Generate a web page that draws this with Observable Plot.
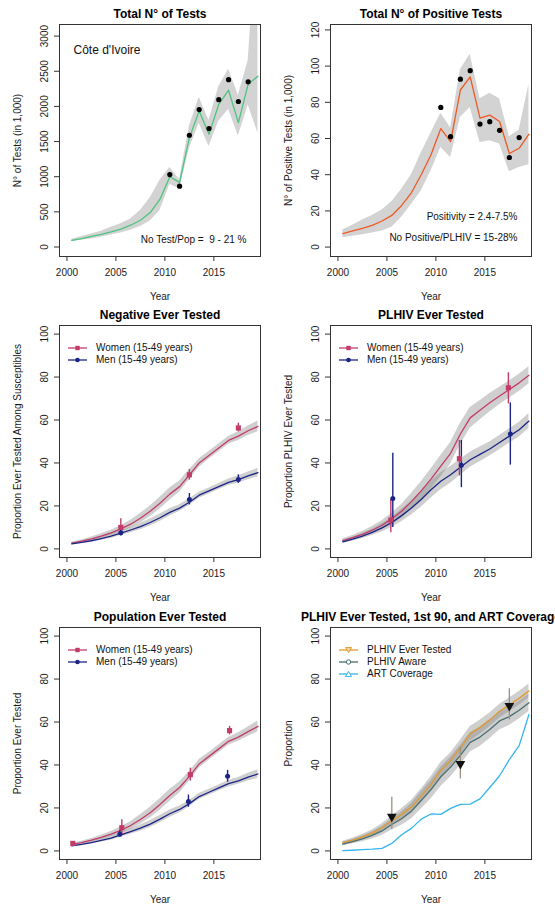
<!DOCTYPE html>
<html>
<head>
<meta charset="utf-8">
<script src="https://cdn.jsdelivr.net/npm/d3@7"></script>
<script src="https://cdn.jsdelivr.net/npm/@observablehq/plot@0.6"></script>
<style>
html, body { margin: 0; padding: 0; background: #fff; overflow: hidden; width: 555px; height: 909px; }
#wrap { position: relative; width: 555px; height: 909px; font-family: "Liberation Sans", Arial, Helvetica, sans-serif; }
.panel { position: absolute; width: 280px; height: 301px; overflow: visible; }
.panel svg { overflow: visible; max-width: none; }
.leg { position: absolute; font-size: 10px; color: #111; white-space: nowrap; line-height: 12px; }
.leg .row { position: relative; height: 12px; }
.leg svg { position: absolute; left: 0; top: 0; }
.leg span { position: absolute; left: 28px; top: 0; }
</style>
</head>
<body>
<div id="wrap"></div>
<script>
// ---------- data ----------
const years = [2000.5, 2001.5, 2002.5, 2003.5, 2004.5, 2005.5, 2006.5, 2007.5, 2008.5, 2009.5,
               2010.5, 2011.5, 2012.5, 2013.5, 2014.5, 2015.5, 2016.5, 2017.5, 2018.5, 2019.5];
const xTicks = [2000, 2005, 2010, 2015];
const testsTicks = [0, 500, 1000, 1500, 2000, 2500, 3000];
const posTicks = [0, 20, 40, 60, 80, 100, 120];
const pctTicks = [0, 20, 40, 60, 80, 100];

// Panel 1: total number of tests (in 1,000)
const testsMid = [95, 120, 150, 180, 215, 255, 310, 380, 490, 680, 1000, 920, 1556, 1936, 1604, 2030, 2230, 1770, 2316, 2430];
const testsLo  = [80, 95, 115, 140, 170, 200, 240, 290, 370, 520, 890, 830, 1400, 1760, 1430, 1790, 1960, 1580, 2020, 1620];
const testsHi  = [110, 150, 185, 225, 280, 330, 400, 520, 700, 950, 1130, 960, 1720, 2130, 1800, 2280, 2530, 2160, 2650, 4700];
const testsObsYear = [2010.5, 2011.5, 2012.5, 2013.5, 2014.5, 2015.5, 2016.5, 2017.5, 2018.5];
const testsObs     = [1030, 865, 1590, 1955, 1685, 2095, 2380, 2070, 2350];

// Panel 2: total number of positive tests (in 1,000)
const posMid = [7.4, 8.9, 10.4, 12.0, 14.4, 17.5, 23, 30, 40, 51, 65.5, 58.3, 86.8, 94.1, 71.3, 72.9, 69.4, 51.7, 54.6, 62.4];
const posLo  = [5.2, 6.0, 6.8, 7.8, 8.9, 11, 16.5, 23.6, 31, 42, 55, 49.5, 71.6, 77.2, 57.8, 58.7, 56.9, 41.7, 44, 45.5];
const posHi  = [9.5, 12, 15, 17.5, 20.5, 25, 32, 40, 52, 63, 74, 66, 98, 106.5, 82, 85, 82, 61, 64.6, 90];
const posObsYear = [2010.5, 2011.5, 2012.5, 2013.5, 2014.5, 2015.5, 2016.5, 2017.5, 2018.5];
const posObs     = [77.2, 61, 92.8, 97.5, 68, 69.3, 64.5, 49.5, 60.5];

// Panel 3: negative ever tested
const negW   = [2.7, 3.6, 4.7, 6.0, 7.5, 9.3, 11.5, 14.3, 17.5, 21.3, 25.5, 29.0, 34.5, 40.0, 43.5, 47.0, 50.5, 52.5, 55.0, 57.0];
const negWLo = [2.2, 3.0, 3.9, 5.0, 6.3, 7.8, 9.7, 12.1, 15.0, 18.6, 22.7, 26.4, 32.2, 38.0, 41.7, 45.2, 48.7, 50.5, 52.8, 54.5];
const negWHi = [3.2, 4.2, 5.5, 7.0, 8.7, 10.8, 13.3, 16.5, 20.0, 24.0, 28.3, 31.6, 36.8, 42.0, 45.3, 48.8, 52.3, 54.5, 57.2, 59.5];
const negM   = [2.3, 3.0, 3.8, 4.8, 5.9, 7.3, 8.8, 10.4, 12.3, 14.5, 17.0, 19.0, 21.7, 25.0, 27.0, 29.0, 31.0, 32.3, 34.0, 35.5];
const negMLo = [1.9, 2.5, 3.2, 4.0, 4.9, 6.2, 7.5, 8.9, 10.7, 12.8, 15.3, 17.4, 20.2, 23.6, 25.6, 27.6, 29.5, 30.7, 32.2, 33.5];
const negMHi = [2.7, 3.5, 4.4, 5.6, 6.9, 8.4, 10.1, 11.9, 13.9, 16.2, 18.7, 20.6, 23.2, 26.4, 28.4, 30.4, 32.5, 33.9, 35.8, 37.5];
const negObsWYear = [2005.5, 2012.5, 2017.5];
const negObsW     = [10, 34.5, 56.3];
const negObsWLo   = [7, 32, 54.5];
const negObsWHi   = [14, 37, 58.5];
const negObsMYear = [2005.5, 2012.5, 2017.5];
const negObsM     = [7.5, 23, 32.3];
const negObsMLo   = [6, 20.5, 30.5];
const negObsMHi   = [9, 25.8, 34.5];

// Panel 4: PLHIV ever tested
const plW   = [3.9, 5.2, 6.8, 8.7, 11.0, 14.0, 17.5, 22.0, 27.0, 32.5, 38.5, 44.5, 53.5, 61.0, 64.5, 68.0, 71.2, 74.2, 77.3, 80.8];
const plWLo = [3.1, 4.2, 5.5, 7.0, 8.9, 11.4, 14.3, 18.2, 22.7, 27.8, 33.5, 39.5, 48.5, 56.2, 60.0, 63.7, 67.1, 70.2, 73.3, 76.8];
const plWHi = [4.7, 6.2, 8.1, 10.4, 13.1, 16.6, 20.7, 25.8, 31.3, 37.2, 43.5, 49.5, 58.5, 65.8, 69.0, 72.3, 75.3, 78.2, 81.3, 84.8];
const plM   = [3.3, 4.5, 6.0, 7.7, 9.8, 12.3, 15.5, 19.0, 23.0, 27.5, 31.5, 34.5, 38.0, 41.5, 44.0, 46.5, 49.5, 52.5, 55.5, 59.5];
const plMLo = [2.6, 3.6, 4.8, 6.2, 7.9, 10.0, 12.7, 15.8, 19.4, 23.6, 27.5, 30.6, 34.3, 38.0, 40.6, 43.2, 46.2, 49.2, 52.1, 56.0];
const plMHi = [4.0, 5.4, 7.2, 9.2, 11.7, 14.6, 18.3, 22.2, 26.6, 31.4, 35.5, 38.4, 41.7, 45.0, 47.4, 49.8, 52.8, 55.8, 58.9, 63.0];
const plObsWYear = [2005.4, 2012.4, 2017.4];
const plObsW     = [13.5, 42, 75];
const plObsWLo   = [7.5, 34, 67.5];
const plObsWHi   = [23, 50.5, 82];
const plObsMYear = [2005.6, 2012.6, 2017.6];
const plObsM     = [23.5, 39, 53.5];
const plObsMLo   = [10, 28.5, 39];
const plObsMHi   = [44.5, 50.5, 68];

// Panel 5: population ever tested
const popW   = [3.0, 3.9, 5.0, 6.3, 7.8, 9.6, 11.8, 14.6, 17.8, 21.6, 25.8, 29.5, 34.7, 40.5, 44.0, 47.5, 51.0, 53.0, 55.5, 58.0];
const popWLo = [2.5, 3.3, 4.2, 5.3, 6.6, 8.1, 10.0, 12.4, 15.3, 18.9, 23.0, 26.9, 32.4, 38.5, 42.2, 45.7, 49.2, 51.0, 53.3, 55.5];
const popWHi = [3.5, 4.5, 5.8, 7.3, 9.0, 11.1, 13.6, 16.8, 20.3, 24.3, 28.6, 32.1, 37.0, 42.5, 45.8, 49.3, 52.8, 55.0, 57.7, 60.5];
const popM   = [2.3, 3.0, 3.9, 4.9, 6.0, 7.5, 9.0, 10.6, 12.5, 14.8, 17.3, 19.3, 22.0, 25.3, 27.3, 29.3, 31.3, 32.6, 34.3, 35.8];
const popMLo = [1.9, 2.5, 3.3, 4.1, 5.0, 6.4, 7.7, 9.1, 10.9, 13.1, 15.6, 17.7, 20.5, 23.9, 25.9, 27.9, 29.8, 31.0, 32.5, 33.8];
const popMHi = [2.7, 3.5, 4.5, 5.7, 7.0, 8.6, 10.3, 12.1, 14.1, 16.5, 19.0, 20.9, 23.5, 26.7, 28.7, 30.7, 32.8, 34.2, 36.1, 37.8];
const popObsWYear = [2000.6, 2005.6, 2012.6, 2016.6];
const popObsW     = [3.5, 10.8, 35.5, 56];
const popObsWLo   = [2.8, 7.5, 32.5, 54];
const popObsWHi   = [4.2, 14.5, 38.5, 58];
const popObsMYear = [2005.4, 2012.4, 2016.4];
const popObsM     = [7.8, 23, 34.7];
const popObsMLo   = [6.5, 20.3, 32];
const popObsMHi   = [9.5, 26, 37.5];

// Panel 6: PLHIV ever tested, aware (1st 90), ART coverage
const etVal = [3.8, 5.0, 6.5, 8.3, 10.8, 14.0, 17.0, 20.5, 25.5, 31.0, 37.5, 42.0, 48.0, 54.5, 57.5, 61.0, 65.0, 68.0, 71.0, 74.5];
const etLo  = [3.1, 4.1, 5.4, 6.9, 9.0, 11.8, 14.4, 17.5, 22.2, 27.5, 33.9, 38.4, 44.5, 51.1, 54.2, 57.8, 61.8, 64.8, 67.8, 71.3];
const etHi  = [4.5, 5.9, 7.6, 9.7, 12.6, 16.2, 19.6, 23.5, 28.8, 34.5, 41.1, 45.6, 51.5, 57.9, 60.8, 64.2, 68.2, 71.2, 74.2, 77.7];
const awVal = [3.2, 4.3, 5.6, 7.2, 9.3, 12.3, 15.0, 18.5, 23.5, 28.5, 34.5, 39.0, 44.5, 50.5, 53.0, 56.5, 60.5, 62.5, 65.5, 69.0];
const awLo  = [2.4, 3.3, 4.3, 5.5, 7.2, 9.7, 11.9, 14.9, 19.5, 24.2, 30.0, 34.4, 39.9, 46.0, 48.6, 52.2, 56.3, 58.4, 61.4, 64.9];
const awHi  = [4.0, 5.3, 6.9, 8.9, 11.4, 14.9, 18.1, 22.1, 27.5, 32.8, 39.0, 43.6, 49.1, 55.0, 57.4, 60.8, 64.7, 66.6, 69.6, 73.1];
const artVal = [0.1, 0.3, 0.6, 0.8, 1.2, 3.5, 7.5, 10.5, 14.8, 17.2, 17.0, 19.8, 21.7, 21.8, 24.2, 29.5, 35.0, 42.5, 49.0, 63.5];
const etObsYear = [2005.5, 2012.5, 2017.5];
const etObs     = [16, 40.5, 67.5];
const etObsLo   = [10, 33.5, 61];
const etObsHi   = [25, 48, 75.5];

// ---------- styling ----------
const FONT = '"Liberation Sans", Arial, Helvetica, sans-serif';
const cGreen = "#4cc47f", cRed = "#ee5a24", cWomen = "#c23b6b", cMen = "#1c2585";
const cOrange = "#e09a2f", cAware = "#4a6e6e", cArt = "#33b5f0", cBar6 = "#9b8f80";
const bandGray = "#808080", bandOp = 0.38;

const series = (mid, lo, hi) => years.map((x, i) => ({x, y: mid[i], lo: lo ? lo[i] : null, hi: hi ? hi[i] : null}));
const pts = (xs, ys, lo, hi) => xs.map((x, i) => ({x, y: ys[i], lo: lo ? lo[i] : null, hi: hi ? hi[i] : null}));

function note(str, frameAnchor, dx, dy, textAnchor, fontSize = 10) {
  return Plot.text([str], {text: d => d, frameAnchor, dx, dy, textAnchor, lineAnchor: "middle", fontSize, fill: "#111"});
}

function panel({title, ylabel, ydomain, yticks, marks}) {
  return Plot.plot({
    width: 280, height: 301,
    marginLeft: 59, marginRight: 20, marginTop: 24, marginBottom: 45,
    style: {background: "transparent", overflow: "visible", fontFamily: FONT, fontSize: "10px", color: "#1a1a1a"},
    x: {domain: [1999.24, 2019.76]},
    y: {domain: ydomain},
    marks: [
      ...marks,
      Plot.frame({stroke: "#333", strokeWidth: 1}),
      Plot.axisX({ticks: xTicks, tickSize: 5, tickPadding: 7, tickFormat: d => String(d), label: null, stroke: "#333"}),
      Plot.axisY({ticks: yticks, tickSize: 5, tickPadding: 7, tickRotate: -90, tickFormat: d => String(d), label: null, stroke: "#333"}),
      Plot.text([title], {text: d => d, frameAnchor: "top", dy: -10, textAnchor: "middle", lineAnchor: "middle", fontWeight: "bold", fontSize: 12, fill: "#000"}),
      Plot.text(["Year"], {text: d => d, frameAnchor: "bottom", dy: 40, textAnchor: "middle", lineAnchor: "middle", fontSize: 10, fill: "#1a1a1a"}),
      Plot.text([ylabel], {text: d => d, frameAnchor: "left", dx: -42, rotate: -90, textAnchor: "middle", lineAnchor: "middle", fontSize: 10, fill: "#1a1a1a"})
    ]
  });
}

function band(data, opts = {}) {
  return Plot.areaY(data, {x: "x", y1: "lo", y2: "hi", fill: bandGray, fillOpacity: bandOp, clip: true, ...opts});
}
function line(data, color) {
  return Plot.line(data, {x: "x", y: "y", stroke: color, strokeWidth: 1.3, clip: true});
}
function errbars(data, color, w = 1.4) {
  return Plot.ruleX(data, {x: "x", y1: "lo", y2: "hi", stroke: color, strokeWidth: w});
}

const panels = [];

// Panel 1
{
  const s = series(testsMid, testsLo, testsHi);
  const o = pts(testsObsYear, testsObs);
  panels.push({left: 0, top: 0, svg: panel({
    title: "Total N\u00b0 of Tests", ylabel: "N\u00b0 of Tests (in 1,000)",
    ydomain: [-135, 3165], yticks: testsTicks,
    marks: [
      Plot.areaY(s, {x: "x", y1: "lo", y2: "hi", fill: "#d3d3d3", clip: true}),
      line(s, cGreen),
      Plot.dot(o, {x: "x", y: "y", r: 2.6, fill: "#000"}),
      note("C\u00f4te d'Ivoire", "top-left", 14, 26, "start", 12),
      note("No Test/Pop =  9 - 21 %", "bottom-right", -14, -17, "end")
    ]
  })});
}

// Panel 2
{
  const s = series(posMid, posLo, posHi);
  const o = pts(posObsYear, posObs);
  panels.push({left: 271, top: 0, svg: panel({
    title: "Total N\u00b0 of Positive Tests", ylabel: "N\u00b0 of Positive Tests (in 1,000)",
    ydomain: [-5.2, 123], yticks: posTicks,
    marks: [
      Plot.areaY(s, {x: "x", y1: "lo", y2: "hi", fill: "#d3d3d3", clip: true}),
      line(s, cRed),
      Plot.dot(o, {x: "x", y: "y", r: 2.6, fill: "#000"}),
      note("Positivity = 2.4-7.5%", "bottom-right", -14, -40, "end"),
      note("No Positive/PLHIV = 15-28%", "bottom-right", -14, -19, "end")
    ]
  })});
}

function sexPanel(title, ylabel, W, WLo, WHi, M, MLo, MHi, oW, oM) {
  const sw = series(W, WLo, WHi), sm = series(M, MLo, MHi);
  return panel({
    title, ylabel, ydomain: [-4, 104], yticks: pctTicks,
    marks: [
      band(sw), band(sm),
      line(sw, cWomen), line(sm, cMen),
      errbars(oW, cWomen), errbars(oM, cMen),
      Plot.dot(oW, {x: "x", y: "y", symbol: "square", r: 2.9, fill: cWomen}),
      Plot.dot(oM, {x: "x", y: "y", r: 2.5, fill: cMen})
    ]
  });
}

panels.push({left: 0, top: 301, legend: "sex", svg: sexPanel(
  "Negative Ever Tested", "Proportion Ever Tested Among Susceptibles",
  negW, negWLo, negWHi, negM, negMLo, negMHi,
  pts(negObsWYear, negObsW, negObsWLo, negObsWHi), pts(negObsMYear, negObsM, negObsMLo, negObsMHi))});

panels.push({left: 271, top: 301, legend: "sex", svg: sexPanel(
  "PLHIV Ever Tested", "Proportion PLHIV Ever Tested",
  plW, plWLo, plWHi, plM, plMLo, plMHi,
  pts(plObsWYear, plObsW, plObsWLo, plObsWHi), pts(plObsMYear, plObsM, plObsMLo, plObsMHi))});

panels.push({left: 0, top: 603, legend: "sex", svg: sexPanel(
  "Population Ever Tested", "Proportion Ever Tested",
  popW, popWLo, popWHi, popM, popMLo, popMHi,
  pts(popObsWYear, popObsW, popObsWLo, popObsWHi), pts(popObsMYear, popObsM, popObsMLo, popObsMHi))});

// Panel 6
{
  const se = series(etVal, etLo, etHi), sa = series(awVal, awLo, awHi), sr = series(artVal);
  const o = pts(etObsYear, etObs, etObsLo, etObsHi);
  panels.push({left: 271, top: 603, legend: "cascade", svg: panel({
    title: "PLHIV Ever Tested, 1st 90, and ART Coverage", ylabel: "Proportion",
    ydomain: [-4, 104], yticks: pctTicks,
    marks: [
      band(se), band(sa),
      line(se, cOrange), line(sa, cAware), line(sr, cArt),
      errbars(o, cBar6, 1.3),
      Plot.dot(o, {x: "x", y: "y", symbol: "triangle", rotate: 180, r: 3.6, fill: "#111"})
    ]
  })});
}

// ---------- render ----------
const wrap = document.getElementById("wrap");
const legendItems = {
  sex: [
    {label: "Women (15-49 years)", color: cWomen, sym: "square"},
    {label: "Men (15-49 years)", color: cMen, sym: "dot"}
  ],
  cascade: [
    {label: "PLHIV Ever Tested", color: cOrange, sym: "tridown"},
    {label: "PLHIV Aware", color: cAware, sym: "circle"},
    {label: "ART Coverage", color: cArt, sym: "triup"}
  ]
};
function glyph(sym, color) {
  let m = "";
  if (sym === "square") m = `<rect x="7.3" y="3.8" width="4.4" height="4.4" fill="${color}"/>`;
  else if (sym === "dot") m = `<circle cx="9.5" cy="6" r="2.3" fill="${color}"/>`;
  else if (sym === "circle") m = `<circle cx="9.5" cy="6" r="2.2" fill="#fff" stroke="${color}" stroke-width="1"/>`;
  else if (sym === "tridown") m = `<path d="M6.5,3.6 L12.5,3.6 L9.5,8.6 Z" fill="#f3d9a8" stroke="${color}" stroke-width="1"/>`;
  else if (sym === "triup") m = `<path d="M6.5,8.4 L12.5,8.4 L9.5,3.4 Z" fill="#fff" stroke="${color}" stroke-width="1"/>`;
  return `<svg width="20" height="12"><line x1="0" y1="6" x2="19" y2="6" stroke="${color}" stroke-width="1.3"/>${m}</svg>`;
}
for (const p of panels) {
  const div = document.createElement("div");
  div.className = "panel";
  div.style.left = p.left + "px";
  div.style.top = p.top + "px";
  div.appendChild(p.svg);
  if (p.legend) {
    const leg = document.createElement("div");
    leg.className = "leg";
    leg.style.left = "68px";
    leg.style.top = "41px";
    leg.innerHTML = legendItems[p.legend].map(it =>
      `<div class="row">${glyph(it.sym, it.color)}<span>${it.label}</span></div>`).join("");
    div.appendChild(leg);
  }
  wrap.appendChild(div);
}
</script>
</body>
</html>
